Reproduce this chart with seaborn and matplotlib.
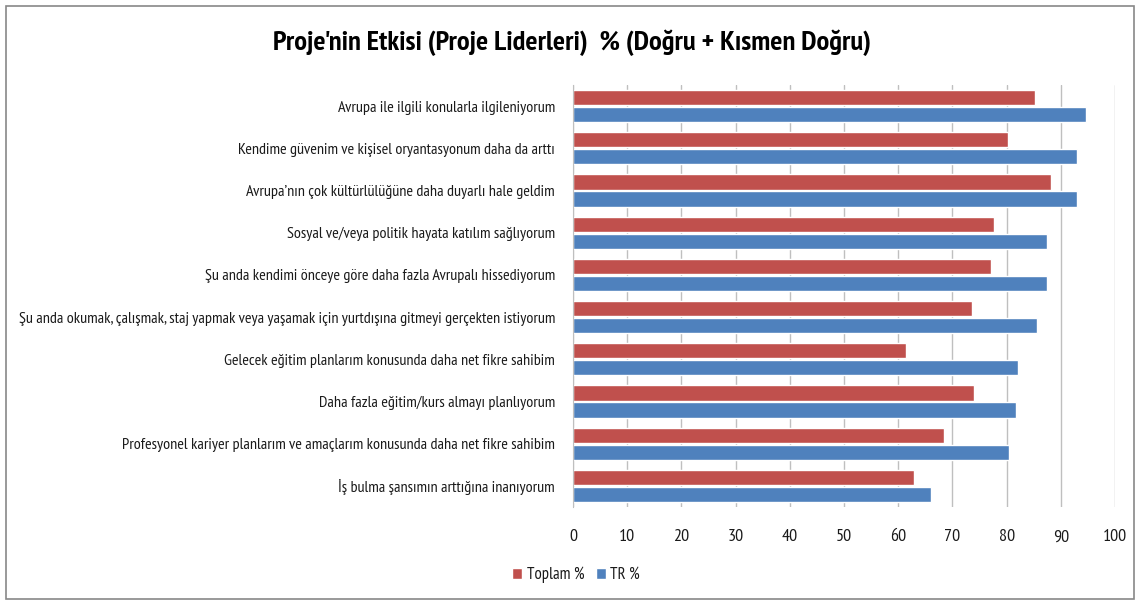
import pandas as pd
import numpy as np
import matplotlib.pyplot as plt
import seaborn as sns
from matplotlib.patches import Rectangle

categories = [
    'Avrupa ile ilgili konularla ilgileniyorum',
    'Kendime güvenim ve kişisel oryantasyonum daha da arttı',
    'Avrupa’nın çok kültürlülüğüne daha duyarlı hale geldim',
    'Sosyal ve/veya politik hayata katılım sağlıyorum',
    'Şu anda kendimi önceye göre daha fazla Avrupalı hissediyorum',
    'Şu anda okumak, çalışmak, staj yapmak veya yaşamak için yurtdışına gitmeyi gerçekten istiyorum',
    'Gelecek eğitim planlarım konusunda daha net fikre sahibim',
    'Daha fazla eğitim/kurs almayı planlıyorum',
    'Profesyonel kariyer planlarım ve amaçlarım konusunda daha net fikre sahibim',
    'İş bulma şansımın arttığına inanıyorum',
]
toplam = [85.2, 80.2, 88.1, 77.7, 77.2, 73.6, 61.5, 73.9, 68.5, 63.0]
tr = [94.6, 93.0, 93.0, 87.5, 87.5, 85.7, 82.1, 81.7, 80.4, 66.0]
series = ['Toplam %', 'TR %']
colors = ['#C0504D', '#4F81BD']

df = pd.DataFrame({
    'kategori': categories * 2,
    'seri': [series[0]] * len(categories) + [series[1]] * len(categories),
    'deger': toplam + tr,
})

sns.set_style('white')
plt.rcParams['font.family'] = ['PT Sans Narrow', 'DejaVu Sans']
plt.rcParams['text.color'] = '#1a1a1a'

fig = plt.figure(figsize=(11.38, 6.03), dpi=100)
ax = fig.add_axes([573 / 1138, 1 - 507 / 603, 542 / 1138, 422 / 603])

sns.barplot(data=df, x='deger', y='kategori', hue='seri', orient='h',
            palette=colors, width=0.8, gap=0.1, saturation=1, ax=ax)

ax.set_xlim(0, 100)
ax.set_xticks(range(0, 101, 10))
ax.tick_params(axis='x', labelsize=13, length=0, pad=16, labelcolor='#1a1a1a')
ax.tick_params(axis='y', labelsize=11.6, length=0, pad=13, labelcolor='#1a1a1a')
ax.xaxis.grid(True, color='#BFBFBF', linewidth=1)
ax.set_axisbelow(True)
ax.set_xlabel('')
ax.set_ylabel('')
for s in ['top', 'right', 'bottom']:
    ax.spines[s].set_visible(False)
ax.spines['left'].set_color('#BFBFBF')

ax.legend(loc='center', bbox_to_anchor=(576 / 1138, 1 - 575 / 603),
          bbox_transform=fig.transFigure, ncol=2, frameon=False,
          fontsize=12, handlelength=0.6, handleheight=0.6,
          handletextpad=0.25, columnspacing=0.7)

fig.text(572 / 1138, 1 - 43 / 603, "Proje'nin Etkisi (Proje Liderleri)  % (Doğru + Kısmen Doğru)",
         ha='center', va='center', fontsize=20.5, fontweight='bold', color='black')

fig.patches.append(Rectangle((6 / 1138, 4 / 603), 1128 / 1138, 593 / 603,
                             transform=fig.transFigure, fill=False,
                             edgecolor='#888888', linewidth=1.2))

fig.savefig('out.png', dpi=100)
